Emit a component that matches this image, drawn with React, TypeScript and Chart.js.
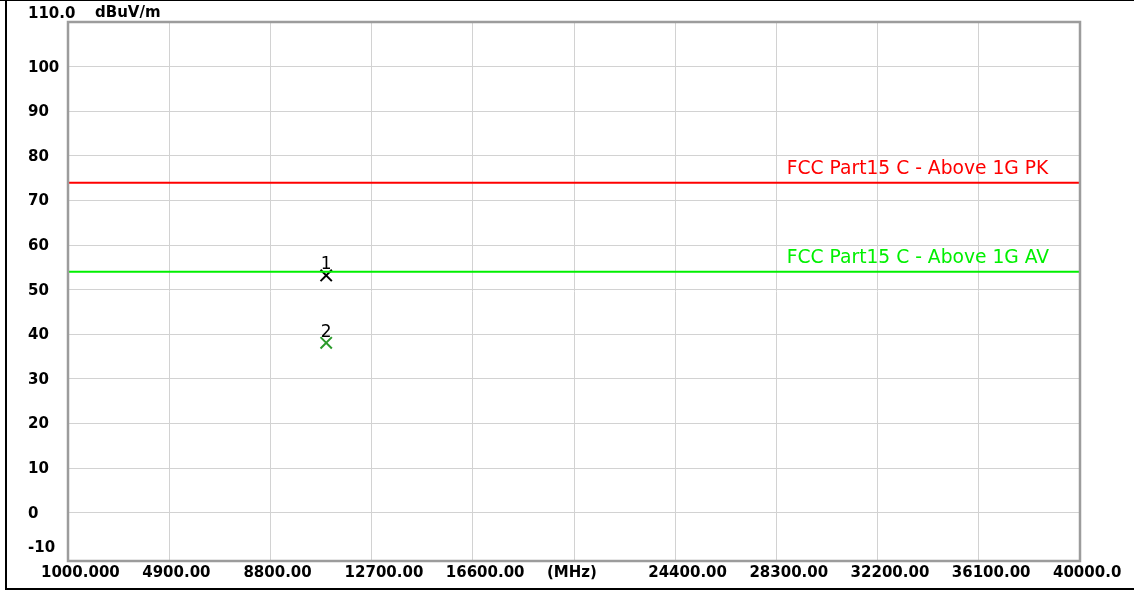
import { useEffect, useRef } from 'react';
import { Chart, registerables } from 'chart.js';
Chart.register(...registerables);

const xMin = 1000;
const xMax = 40000;
const xStep = 3900;
const xTickLabels = ['1000.000', '4900.00', '8800.00', '12700.00', '16600.00', '(MHz)', '24400.00', '28300.00', '32200.00', '36100.00', '40000.0'];

const yMin = -10.8;
const yMax = 110;
const yGridValues = [0, 10, 20, 30, 40, 50, 60, 70, 80, 90, 100];
const yLabelValues = [100, 90, 80, 70, 60, 50, 40, 30, 20, 10, 0, -10];
const yTopLabel = '110.0';
const yUnit = 'dBuV/m';

const limitNames = ['FCC Part15 C - Above 1G PK', 'FCC Part15 C - Above 1G AV'];
const limitValues = [74, 54];
const limitColors = ['#ff0000', '#00f000'];
const limitLabelFreq = 28700;

const markerNames = ['1', '2'];
const markerFreqs = [10950, 10950];
const markerLevels = [53.2, 38.1];
const markerColors = ['#000000', '#2a9a2a'];

const FONT = '"DejaVu Sans", "Liberation Sans", sans-serif';

const decor = {
  id: 'decor',
  beforeDraw(chart: any) {
    const { ctx, width, height } = chart;
    ctx.save();
    ctx.fillStyle = '#ffffff';
    ctx.fillRect(0, 0, width, height);
    ctx.fillStyle = '#000000';
    ctx.fillRect(0, 0, width, 1);
    ctx.fillRect(5, 0, 2, height - 3);
    ctx.fillRect(5, 588, width - 5, 2);
    ctx.restore();
  },
  afterDatasetsDraw(chart: any) {
    const { ctx, chartArea, scales } = chart;
    const xs = scales.x;
    const ys = scales.y;
    ctx.save();
    // plot frame
    ctx.strokeStyle = '#9c9c9c';
    ctx.lineWidth = 2.5;
    ctx.strokeRect(chartArea.left, chartArea.top, chartArea.right - chartArea.left, chartArea.bottom - chartArea.top);

    // y labels
    ctx.fillStyle = '#000';
    ctx.font = 'bold 15px ' + FONT;
    ctx.textAlign = 'left';
    ctx.textBaseline = 'middle';
    yLabelValues.forEach((v) => {
      const y = Math.min(ys.getPixelForValue(v), chartArea.bottom - 14);
      ctx.fillText(String(v), chartArea.left - 40, y + 1);
    });
    ctx.fillText(yTopLabel, chartArea.left - 40, chartArea.top - 8);
    ctx.fillText(yUnit, chartArea.left + 27, chartArea.top - 9);

    // limit labels
    ctx.font = '18.7px ' + FONT;
    ctx.textBaseline = 'alphabetic';
    limitNames.forEach((name, i) => {
      ctx.fillStyle = limitColors[i];
      ctx.fillText(name, xs.getPixelForValue(limitLabelFreq), ys.getPixelForValue(limitValues[i]) - 9);
    });

    // marker labels
    ctx.font = '17px ' + FONT;
    ctx.textAlign = 'center';
    ctx.fillStyle = '#000';
    markerNames.forEach((name, i) => {
      const px = xs.getPixelForValue(markerFreqs[i]);
      const py = ys.getPixelForValue(markerLevels[i]);
      ctx.fillText(name, px, py - 6);
    });
    ctx.restore();
  },
};

export default function App() {
  const ref = useRef<HTMLCanvasElement | null>(null);
  useEffect(() => {
    if (!ref.current) return;
    const datasets: any[] = [];
    limitNames.forEach((name, i) => {
      datasets.push({
        type: 'line',
        label: name,
        data: [
          { x: xMin, y: limitValues[i] },
          { x: xMax, y: limitValues[i] },
        ],
        borderColor: limitColors[i],
        borderWidth: 2,
        pointRadius: 0,
        fill: false,
      });
    });
    markerNames.forEach((name, i) => {
      datasets.push({
        type: 'scatter',
        label: 'Marker ' + name,
        data: [{ x: markerFreqs[i], y: markerLevels[i] }],
        pointStyle: 'crossRot',
        pointRadius: 8,
        pointBorderWidth: 2,
        borderColor: markerColors[i],
        backgroundColor: markerColors[i],
      });
    });
    const chart = new Chart(ref.current, {
      type: 'scatter',
      data: { datasets },
      options: {
        animation: false,
        responsive: true,
        maintainAspectRatio: false,
        layout: { padding: { left: 8, top: 22, right: 54, bottom: 0 } },
        plugins: { legend: { display: false }, tooltip: { enabled: false } },
        scales: {
          x: {
            type: 'linear',
            min: xMin,
            max: xMax,
            ticks: {
              stepSize: xStep,
              autoSkip: false,
              maxRotation: 0,
              minRotation: 0,
              align: 'start',
              labelOffset: -27,
              padding: 3,
              color: '#000',
              font: { family: FONT, size: 15, weight: 'bold' },
              callback: (_v: any, i: number) => xTickLabels[i],
            },
            grid: { color: '#d2d2d2', lineWidth: 1, drawTicks: false },
            border: { display: false },
            afterFit: (s: any) => {
              s.height = 32;
              s.paddingLeft = 0;
              s.paddingRight = 0;
            },
          },
          y: {
            type: 'linear',
            min: yMin,
            max: yMax,
            afterBuildTicks: (s: any) => {
              s.ticks = yGridValues.map((v) => ({ value: v }));
            },
            ticks: { display: false },
            grid: { color: '#d2d2d2', lineWidth: 1, drawTicks: false },
            border: { display: false },
            afterFit: (s: any) => {
              s.width = 60;
            },
          },
        },
      } as any,
      plugins: [decor],
    });
    return () => chart.destroy();
  }, []);
  return (
    <div style={{ position: 'absolute', left: 0, top: 0, width: 1134, height: 593 }}>
      <canvas ref={ref} />
    </div>
  );
}
